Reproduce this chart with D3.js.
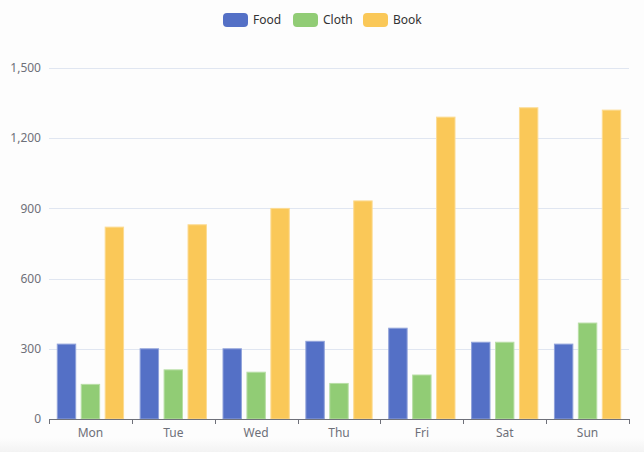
<!DOCTYPE html>
<html><head><meta charset="utf-8">
<script src="https://cdn.jsdelivr.net/npm/d3@7/dist/d3.min.js"></script>
<style>
html,body{margin:0;padding:0;}
body{width:644px;height:452px;overflow:hidden;background:linear-gradient(to bottom,#fdfdfd 0px,#fdfdfd 438px,#f3f3f3 452px);}
text{font-family:"Microsoft YaHei","Noto Sans","DejaVu Sans",sans-serif;}
</style></head>
<body>
<svg id="c" width="644" height="452"></svg>
<script>
const categories = ["Mon","Tue","Wed","Thu","Fri","Sat","Sun"];
const seriesNames = ["Food","Cloth","Book"];
const food  = [320, 300, 300, 332, 388, 328, 320];
const cloth = [148, 210, 200, 152, 188, 328, 410];
const book  = [820, 830, 900, 932, 1290, 1330, 1320];
const yTicks = [0, 300, 600, 900, 1200, 1500];
const colors = ["#5470c6","#91cc75","#fac858"];

(function(){
const series = [food, cloth, book];
const svg = d3.select("#c");
const pLeft = 49, pRight = 629, pTop = 68, pBottom = 419;

const y = d3.scaleLinear().domain([0, 1500]).range([pBottom, pTop]);
const band = d3.scaleBand().domain(categories).range([pLeft, pRight]);
const catW = band.bandwidth();

// grid lines
svg.append("g").selectAll("line").data(yTicks.slice(1)).join("line")
  .attr("x1", pLeft).attr("x2", pRight)
  .attr("y1", d => Math.round(y(d)) + 0.5).attr("y2", d => Math.round(y(d)) + 0.5)
  .attr("stroke", "#E0E6F1").attr("stroke-width", 1);

// y labels
svg.append("g").selectAll("text").data(yTicks).join("text")
  .attr("x", pLeft - 8).attr("y", d => y(d)).attr("dy", "0.35em")
  .attr("text-anchor", "end").attr("font-size", 12).attr("fill", "#6E7079")
  .text(d => d3.format(",")(d));

// bars
const usable = catW * 0.8;
const bw = usable / 3.6;
const gap = bw * 0.3;
series.forEach((vals, si) => {
  svg.append("g").selectAll("rect").data(vals).join("rect")
    .attr("x", (d, i) => band(categories[i]) + catW * 0.1 + si * (bw + gap))
    .attr("y", d => y(d))
    .attr("width", bw)
    .attr("height", d => y(0) - y(d))
    .attr("fill", colors[si])
    .attr("stroke", d3.interpolateRgb(colors[si], "#ffffff")(0.35))
    .attr("stroke-width", 1);
});

// x axis
const axisG = svg.append("g");
axisG.append("line").attr("x1", pLeft).attr("x2", pRight)
  .attr("y1", pBottom + 0.5).attr("y2", pBottom + 0.5)
  .attr("stroke", "#6E7079").attr("stroke-width", 1);
const tickPos = categories.map(c => band(c)).concat([pRight]);
axisG.selectAll("line.t").data(tickPos).join("line").attr("class","t")
  .attr("x1", d => Math.round(d) + 0.5).attr("x2", d => Math.round(d) + 0.5)
  .attr("y1", pBottom).attr("y2", pBottom + 5)
  .attr("stroke", "#6E7079").attr("stroke-width", 1);
axisG.selectAll("text").data(categories).join("text")
  .attr("x", d => band(d) + catW / 2).attr("y", pBottom + 14).attr("dy", "0.35em")
  .attr("text-anchor", "middle").attr("font-size", 12).attr("fill", "#6E7079")
  .text(d => d);

// legend
const legendX = [223, 293, 363];
const lg = svg.append("g");
seriesNames.forEach((n, i) => {
  lg.append("rect").attr("x", legendX[i]).attr("y", 13).attr("width", 25).attr("height", 14)
    .attr("rx", 4).attr("fill", colors[i]);
  lg.append("text").attr("x", legendX[i] + 30).attr("y", 20).attr("dy", "0.35em")
    .attr("font-size", 12).attr("fill", "#333").text(n);
});
})();
</script>
</body></html>
